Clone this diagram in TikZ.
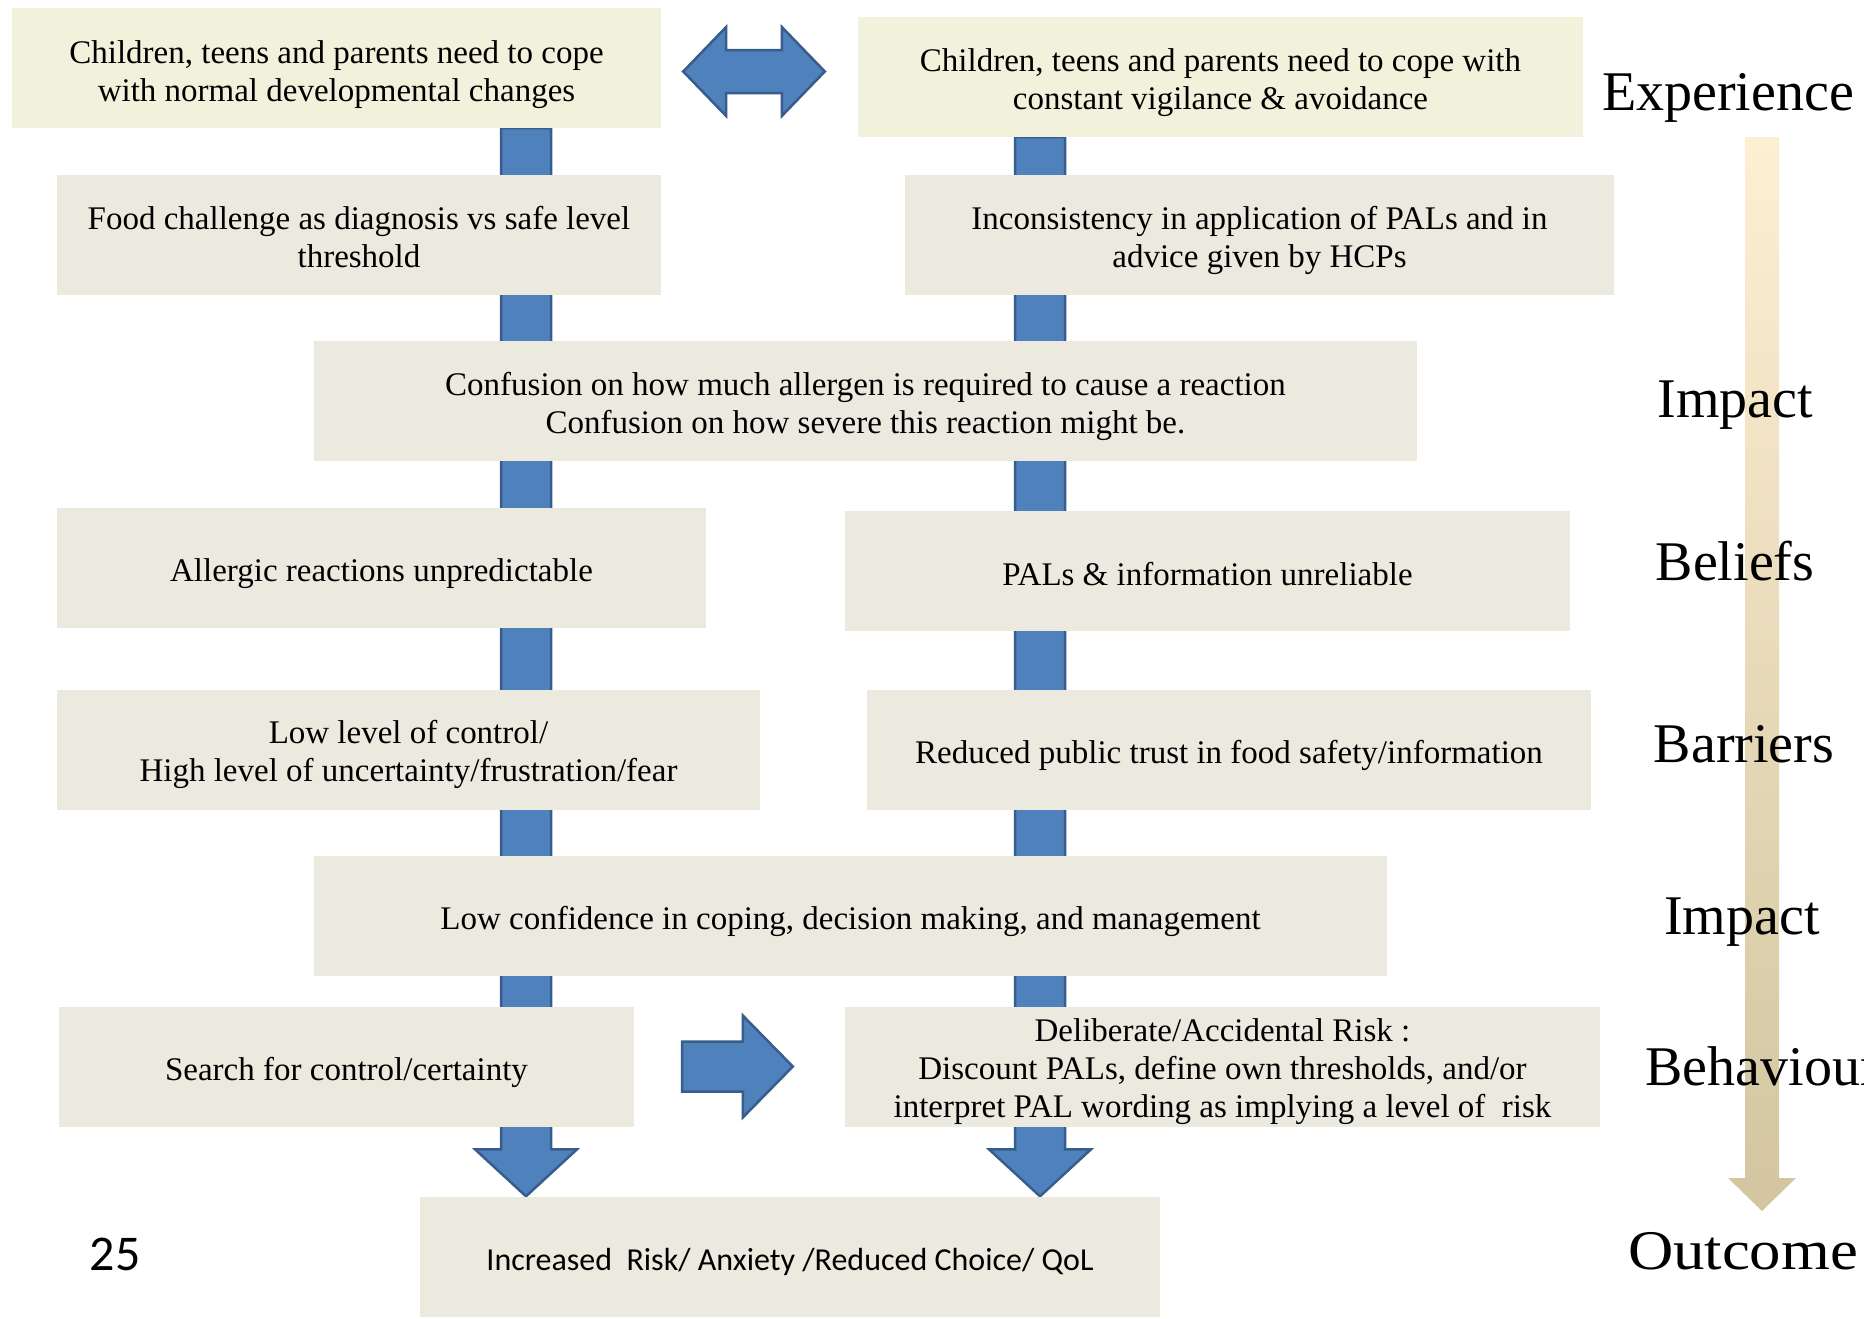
\documentclass[tikz,border=0pt]{standalone}
\usepackage{fontspec}
\setmainfont{Liberation Serif}
\newfontfamily\calibrifont{Carlito}
\usepackage{tikz}
\usetikzlibrary{positioning,calc,backgrounds}

\definecolor{boxcream}{HTML}{F2F1DC}
\definecolor{boxgrey}{HTML}{ECEADF}
\definecolor{arrowblue}{HTML}{4F81BD}
\definecolor{arrowedge}{HTML}{385D8A}
\definecolor{stagetop}{HTML}{FDEFD2}
\definecolor{stagebottom}{HTML}{D2C5A0}

% strut for the first line of a two or three line box
\newcommand{\firstline}{\rule{0pt}{34pt}}

\tikzset{
  flowbox/.style={fill=boxgrey, align=center, inner sep=0pt, minimum height=120pt,
    font=\fontsize{33}{38}\selectfont,
    execute at begin node={\rule{0pt}{35pt}}, execute at end node={\rule[-7pt]{0pt}{7pt}}},
  firstbox/.style={flowbox, fill=boxcream},
  blockarrow/.style={fill=arrowblue, draw=arrowedge, line width=2.5pt, line join=miter},
  stagelabel/.style={anchor=base, font=\fontsize{56}{60}\selectfont},
}

\begin{document}
\begin{tikzpicture}[x=1pt,y=-1pt]
\useasboundingbox (0,0) rectangle (1864,1318);

% columns of the two long arrows
\coordinate (lcol) at (526,0);
\coordinate (rcol) at (1040,0);

% experience
\node[firstbox, minimum width=649pt] (b1) at (336.5,68)
  {\rule{0pt}{36pt}Children, teens and parents need to cope\\with normal developmental changes};
\node[firstbox, minimum width=725pt] (b2) at (1220.5,77)
  {\firstline Children, teens and parents need to cope with\\constant vigilance \& avoidance};
\node[flowbox, minimum width=604pt] (b3) at (359,235)
  {\firstline Food challenge as diagnosis vs safe level\\threshold};
\node[flowbox, minimum width=709pt] (b4) at (1259.5,235)
  {\firstline Inconsistency in application of PALs and in\\advice given by HCPs};

% impact
\node[flowbox, minimum width=1103pt] (b5) at (865.5,401)
  {\firstline Confusion on how much allergen is required to cause a reaction\\Confusion on how severe this reaction might be.};

% beliefs and barriers
\node[flowbox, minimum width=649pt] (b6) at (381.5,568) {Allergic reactions unpredictable};
\node[flowbox, minimum width=725pt] (b7) at (1207.5,571) {PALs \& information unreliable};
\node[flowbox, minimum width=703pt] (b8) at (408.5,749.5)
  {\firstline Low level of control/\\High level of uncertainty/frustration/fear};
\node[flowbox, minimum width=724pt] (b9) at (1229,749.5)
  {Reduced public trust in food safety/information};

% impact and behaviour
\node[flowbox, minimum width=1073pt] (b10) at (850.5,915.5)
  {Low confidence in coping, decision making, and management};
\node[flowbox, minimum width=575pt] (b11) at (346.5,1066.5) {Search for control/certainty};
\node[flowbox, minimum width=755pt] (b12) at (1222.5,1066.5)
  {\firstline Deliberate/Accidental Risk :\\Discount PALs, define own thresholds, and/or\\interpret PAL wording as implying a level of\ \ risk};

% outcome
\node[flowbox, minimum width=740pt, font=\calibrifont\fontsize{32}{38}\selectfont] (out) at (790,1256.5)
  {Increased\ \ Risk/ Anxiety /Reduced Choice/ QoL};

\node[anchor=base, font=\calibrifont\fontsize{50}{50}\selectfont] (pagenum) at (115,1270) {25};

% long arrows behind the boxes
\begin{scope}[on background layer]
  \draw[blockarrow] ($(lcol |- b1.south)+(-25,0)$) -- ($(lcol |- out.north)+(-25,-47)$) -- ++(-26,0)
    -- (lcol |- out.north) -- ($(lcol |- out.north)+(51,-47)$) -- ++(-26,0)
    -- ($(lcol |- b1.south)+(25,0)$) -- cycle;
  \draw[blockarrow] ($(rcol |- b2.south)+(-25,0)$) -- ($(rcol |- out.north)+(-25,-47)$) -- ++(-26,0)
    -- (rcol |- out.north) -- ($(rcol |- out.north)+(51,-47)$) -- ++(-26,0)
    -- ($(rcol |- b2.south)+(25,0)$) -- cycle;
\end{scope}

% double arrow between the top boxes
\draw[blockarrow] ($(b1.east)+(22,3.5)$) -- ++(43,-44.5) -- ++(0,23)
  -- ($(b2.west)+(-76,-27)$) -- ++(0,-23) -- ($(b2.west)+(-33,-5.5)$)
  -- ++(-43,44.5) -- ++(0,-23) -- ($(b1.east)+(65,25)$) -- ++(0,23) -- cycle;

% search -> risk
\draw[blockarrow] ($(b11.east)+(48,-25)$) -- ($(b12.west)+(-102,-25)$) -- ++(0,-26)
  -- ($(b12.west)+(-52,0)$) -- ($(b12.west)+(-102,51)$) -- ++(0,-26)
  -- ($(b11.east)+(48,25)$) -- cycle;

% stage arrow
\coordinate (stagestart) at (1762,137);
\coordinate (stageend) at (1762,1211);
\shade[top color=stagetop, bottom color=stagebottom]
  ($(stagestart)+(-17,0)$) -- ($(stagestart)+(17,0)$) -- ($(stageend)+(17,-33)$)
  -- ($(stageend)+(34,-33)$) -- (stageend) -- ($(stageend)+(-34,-33)$)
  -- ($(stageend)+(-17,-33)$) -- cycle;

% stage labels
\node[stagelabel] (lexp) at (1728,110) {Experience};
\node[stagelabel] (limp) at (1735.5,417) {Impact};
\node[stagelabel] (lbel) at (1735,580) {Beliefs};
\node[stagelabel] (lbar) at (1744,762) {Barriers};
\node[stagelabel] (limp2) at (1742,934) {Impact};
\node[stagelabel, anchor=base west] (lbeh) at (1642,1085) {Behaviour};
\node[stagelabel] (lout) at (1743,1269) {\scalebox{1.12}[1]{Outcome}};
\end{tikzpicture}
\end{document}
